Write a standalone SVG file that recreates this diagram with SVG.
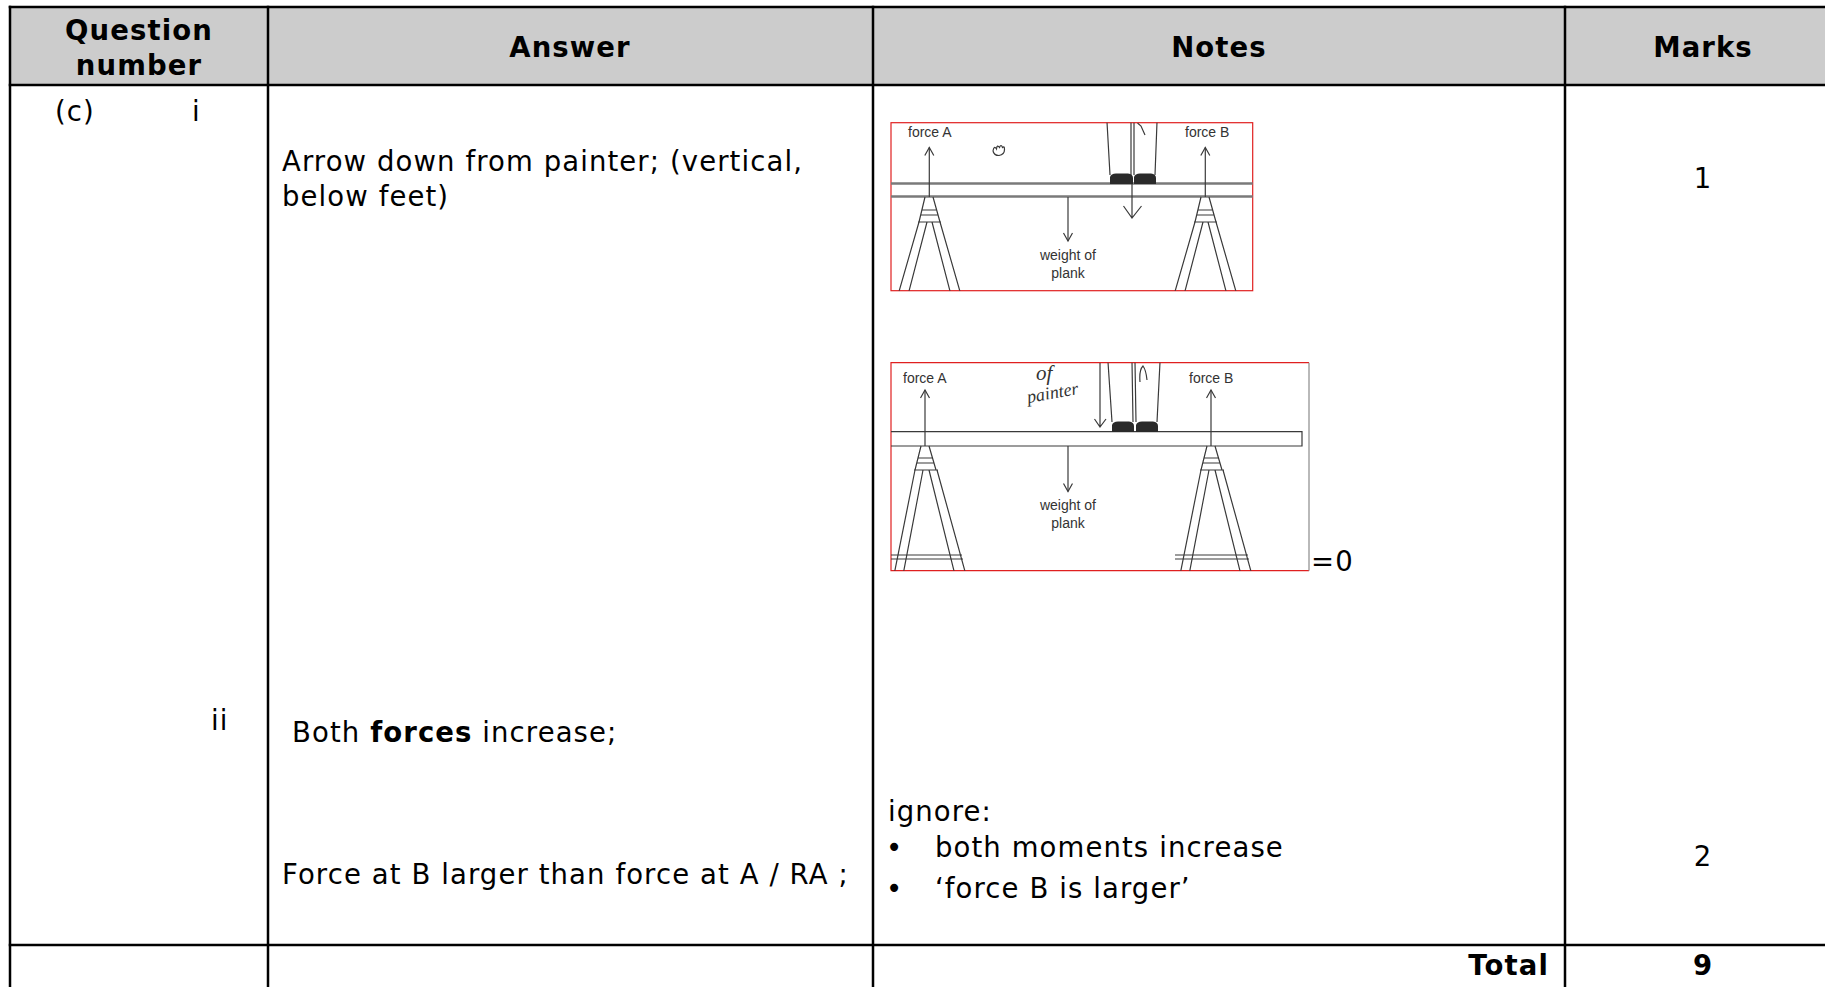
<svg xmlns="http://www.w3.org/2000/svg" width="1825" height="987" viewBox="0 0 1825 987">
<style>
.t{font-family:"DejaVu Sans",Verdana,sans-serif;font-size:27.5px;letter-spacing:1.1px;fill:#000}
.b{font-weight:bold}
.m{text-anchor:middle}
.e{text-anchor:end}
.grid{stroke:#000;stroke-width:2.5;fill:none}
.fl{font-family:"Liberation Sans",Arial,sans-serif;font-size:14px;fill:#333}
.hand{font-family:"Liberation Serif","Times New Roman",serif;font-style:italic;fill:#333}
.ln{stroke:#3a3a3a;stroke-width:1.2;fill:none}
.plk{stroke:#7a7a7a;stroke-width:2.5;fill:none}
.shoe{fill:#2a2a2a;stroke:none}
.frame{fill:none;stroke:#e02020;stroke-width:1.2}
</style>
<defs>
<marker id="v" markerUnits="userSpaceOnUse" markerWidth="12" markerHeight="12" refX="9" refY="5" orient="auto">
<path d="M1,0.5 L9,5 L1,9.5" fill="none" stroke="#3a3a3a" stroke-width="1.2"/>
</marker>
<clipPath id="c1"><rect x="891" y="122.7" width="361.7" height="168"/></clipPath>
<clipPath id="c2"><rect x="891" y="362.7" width="418" height="208"/></clipPath>
</defs>
<rect width="1825" height="987" fill="#fff"/>

<g id="table">
<rect x="10" y="7" width="1832" height="78" fill="#cccccc"/>
<line class="grid" x1="8.75" y1="7" x2="1842" y2="7"/>
<line class="grid" x1="8.75" y1="85" x2="1842" y2="85"/>
<line class="grid" x1="8.75" y1="945" x2="1842" y2="945"/>
<line class="grid" x1="10" y1="5.75" x2="10" y2="990"/>
<line class="grid" x1="268" y1="5.75" x2="268" y2="990"/>
<line class="grid" x1="873" y1="5.75" x2="873" y2="990"/>
<line class="grid" x1="1565" y1="5.75" x2="1565" y2="990"/>
</g>

<g id="header">
<text class="t b m" x="139" y="40">Question</text>
<text class="t b m" x="139" y="75">number</text>
<text class="t b m" x="570" y="57">Answer</text>
<text class="t b m" x="1219" y="57">Notes</text>
<text class="t b m" x="1703" y="57">Marks</text>
</g>

<g id="row-c-i">
<text class="t" x="55" y="121">(c)</text>
<text class="t" x="192" y="121">i</text>
<text class="t" x="282" y="171">Arrow down from painter; (vertical,</text>
<text class="t" x="282" y="206">below feet)</text>
<text class="t m" x="1703" y="188">1</text>
</g>

<g id="figure-1">
<rect class="frame" x="891" y="122.7" width="361.7" height="168"/>
<g clip-path="url(#c1)">
<line class="plk" x1="891" y1="183.5" x2="1253" y2="183.5"/>
<line class="plk" x1="891" y1="196.5" x2="1253" y2="196.5"/>
<g id="trestle-1a">
<path class="ln" d="M925,197 L919,222 M933,197 L940,222 M922,210 L937,210 M921,215 L938,215 M918,222 L941,222 M919,222 L898,295 M927,222 L908,295 M932,222 L951,295 M940,222 L961,295"/>
</g>
<g transform="translate(276,0)">
<path class="ln" d="M925,197 L919,222 M933,197 L940,222 M922,210 L937,210 M921,215 L938,215 M918,222 L941,222 M919,222 L898,295 M927,222 L908,295 M932,222 L951,295 M940,222 L961,295"/>
</g>
<path class="ln" d="M1107,122 L1110,175 M1131,122 L1131,175 M1134,122 L1134,175 M1157,122 L1155,175 M1137.5,123 L1141,126 L1145,135"/>
<path class="shoe" d="M1110,184 L1110,177 Q1111,173.5 1116,173.5 L1128,173.5 Q1133,174 1133,178 L1133,184 Z"/>
<path class="shoe" d="M1134,184 L1134,177 Q1135,173.5 1140,173.5 L1151,173.5 Q1156,174 1156,178 L1156,184 Z"/>
<path class="ln" d="M993,151 q1,-6 3.5,-2 q0.5,-5 3,-1.5 q1.5,-4 3,0 q2,-2 2,2 q0,5 -5.5,6 q-5,0 -6,-4.5"/>
</g>
</g>

<g id="figure-2">
<path d="M1309,362.7 L891,362.7 L891,570.7 L1309,570.7" class="frame"/>
<line x1="1309" y1="362.7" x2="1309" y2="570.7" stroke="#8a8a8a" stroke-width="1.2"/>
<g clip-path="url(#c2)">
<path class="ln" d="M889,431.7 L1302,431.7 L1302,446 L889,446"/>
<path class="ln" d="M921,446 L915,470 M929,446 L936,470 M918,458 L933,458 M917,463 L934,463 M914,470 L938,470 M915,470 L894,575 M923,470 L903,575 M929,470 L955,575 M937,470 L966,575 M889,555 L962,555 M889,559 L963,559"/>
<g transform="translate(286,0)">
<path class="ln" d="M921,446 L915,470 M929,446 L936,470 M918,458 L933,458 M917,463 L934,463 M914,470 L938,470 M915,470 L894,575 M923,470 L903,575 M929,470 L955,575 M937,470 L966,575"/>
<path class="ln" d="M889,555 L962,555 M889,559 L963,559"/>
</g>
<path class="ln" d="M1108,362 L1112,422 M1132,362 L1133,422 M1135,362 L1136,422 M1160,362 L1157,422 M1140,382 Q1139,370 1143,366 Q1146,370 1147,380"/>
<path class="shoe" d="M1112,432 L1112,425 Q1113,421.5 1118,421.5 L1129,421.5 Q1134,422 1134,426 L1134,432 Z"/>
<path class="shoe" d="M1136,432 L1136,425 Q1137,421.5 1142,421.5 L1153,421.5 Q1158,422 1158,426 L1158,432 Z"/>
</g>
</g>

<g id="connectors">
<g id="fig1-arrows">
<line class="ln" x1="929.3" y1="197" x2="929.3" y2="147.5" marker-end="url(#v)"/>
<line class="ln" x1="1205.3" y1="197" x2="1205.3" y2="147.5" marker-end="url(#v)"/>
<line class="ln" x1="1068" y1="197" x2="1068" y2="241" marker-end="url(#v)"/>
<path class="ln" d="M1132,184 L1132,218 M1123.5,206 L1132,218 L1141.5,206"/>
</g>
<g id="fig2-arrows">
<line class="ln" x1="925" y1="446" x2="925" y2="390" marker-end="url(#v)"/>
<line class="ln" x1="1211" y1="446" x2="1211" y2="390" marker-end="url(#v)"/>
<line class="ln" x1="1068" y1="446" x2="1068" y2="491.5" marker-end="url(#v)"/>
<path class="ln" d="M1100,363 L1100,427 M1094.5,419 L1100,427 L1106,419"/>
</g>
</g>

<g id="figure-labels">
<text class="fl" x="908" y="137">force A</text>
<text class="fl" x="1185" y="137">force B</text>
<text class="fl m" x="1068" y="260">weight of</text>
<text class="fl m" x="1068" y="278">plank</text>
<text class="fl" x="903" y="383">force A</text>
<text class="fl" x="1189" y="383">force B</text>
<text class="fl m" x="1068" y="510">weight of</text>
<text class="fl m" x="1068" y="528">plank</text>
<text class="hand" x="1036" y="380" font-size="21">of</text>
<text class="hand" x="1028" y="403" font-size="18" transform="rotate(-10 1028 403)">painter</text>
<text class="t" x="1311" y="571">=0</text>
</g>

<g id="row-c-ii">
<text class="t" x="211" y="730">ii</text>
<text class="t" x="292" y="742">Both <tspan class="b">forces</tspan> increase;</text>
<text class="t" x="282" y="884">Force at B larger than force at A / RA ;</text>
<text class="t" x="888" y="821">ignore:</text>
<text class="t" x="886" y="857">•</text>
<text class="t" x="935" y="857">both moments increase</text>
<text class="t" x="886" y="898">•</text>
<text class="t" x="935" y="898">‘force B is larger’</text>
<text class="t m" x="1703" y="866">2</text>
</g>

<g id="total-row">
<text class="t b e" x="1549" y="975">Total</text>
<text class="t b m" x="1703" y="975">9</text>
</g>
</svg>
